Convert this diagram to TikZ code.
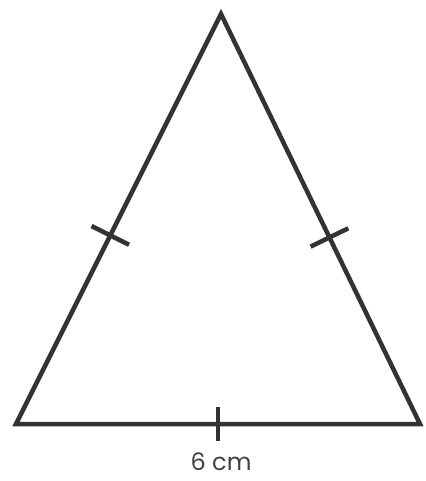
\documentclass[tikz,border=0pt]{standalone}
\usepackage{fontspec}
\setmainfont{Poppins}
\usetikzlibrary{calc}

\begin{document}
\begin{tikzpicture}[x=1pt, y=-1pt]
    \tikzstyle{side} = [draw, color=black!80, line width=4.5pt, line join=miter]
    \tikzstyle{tickmark} = [draw, color=black!80, line width=4.5pt]
    \tikzstyle{label} = [font=\fontsize{24}{28}\selectfont, text=black!75]

    \useasboundingbox (0,0) rectangle (425,481);

    \coordinate (apex) at (221,14);
    \coordinate (left) at (16,424);
    \coordinate (right) at (420,424);

    \path [side] (apex) -- (left) -- (right) -- cycle;

    % tick marks for the equal sides
    \path (apex) -- (left) coordinate[pos=0.54] (mleft);
    \path (apex) -- (right) coordinate[pos=0.545] (mright);
    \path (left) -- (right) coordinate[pos=0.5] (mbase);

    \path [tickmark] ($(mleft)!21pt!90:(apex)$) -- ($(mleft)!21pt!-90:(apex)$);
    \path [tickmark] ($(mright)!21pt!90:(apex)$) -- ($(mright)!21pt!-90:(apex)$);
    \path [tickmark] ($(mbase)!17pt!90:(right)$) -- ($(mbase)!17pt!-90:(right)$);

    \node [label] (base) at (221,462) {6 cm};
\end{tikzpicture}
\end{document}
